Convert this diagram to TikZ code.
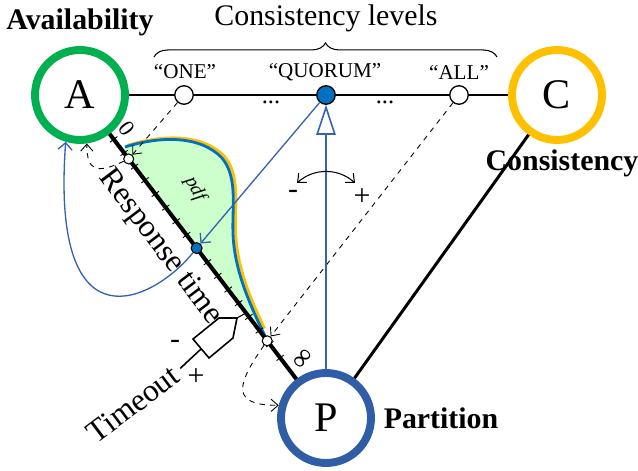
\documentclass[tikz,border=0pt]{standalone}
\usepackage{fontspec}
\setmainfont{Liberation Serif}
\usepackage{xcolor}
\usetikzlibrary{arrows.meta, calc, decorations.pathreplacing, math}
\definecolor{mygreen}{RGB}{0,176,80}
\definecolor{myyellow}{RGB}{255,192,0}
\definecolor{mydarkblue}{RGB}{47,93,166}
\definecolor{myblue}{RGB}{0,112,192}
\definecolor{mylineblue}{RGB}{52,98,178}
\definecolor{mypdf}{RGB}{204,255,204}

\begin{document}
\begin{tikzpicture}[x=0.02cm, y=0.02cm,
  corner/.style={circle, draw, line width=4.5pt, minimum size=1.8cm, inner sep=0pt, font=\fontsize{24}{24}\selectfont},
  level/.style={circle, draw, line width=0.75pt, fill=white, minimum size=0.37cm, inner sep=0pt},
  axisdot/.style={circle, draw, line width=0.6pt, fill=white, minimum size=0.2cm, inner sep=0pt},
  hint/.style={dashed, line width=0.5pt, -{Straight Barb[length=4pt, width=7pt]}},
  bluearrow/.style={color=mylineblue, line width=0.75pt, -{Straight Barb[length=4pt, width=8pt]}},
  big/.style={font=\fontsize{17}{17}\selectfont},
  bigbold/.style={font=\bfseries\fontsize{17}{17}\selectfont}
]
\tikzmath{
\tzero=0.1372;
\dt=0.04228;
}
\useasboundingbox (0,0) rectangle (638,470);

% pdf of the response time
\fill[color=mypdf] (121,322) .. controls (160,334) and (200,335) .. (222,312) .. controls (238,293) and (232,262) .. (233,237) .. controls (234,200) and (250,165) .. (268,129) -- cycle;
\draw[color=myyellow, line width=1.7pt, shift={(2.5,1.5)}] (125,323) .. controls (160,334) and (200,335) .. (222,312) .. controls (238,293) and (232,262) .. (233,237) .. controls (234,200) and (250,165) .. (262,140);
\draw[color=myblue, line width=1.6pt] (125,323) .. controls (160,334) and (200,335) .. (222,312) .. controls (238,293) and (232,262) .. (233,237) .. controls (234,200) and (250,165) .. (266,132);
\node[rotate=-62, font=\itshape\fontsize{11}{11}\selectfont] (pdf) at (195,281) {pdf};

% CAP corners
\node[corner, color=mygreen] (A) at (80,375) {\color{black}A};
\node[corner, color=myyellow] (C) at (557,375) {\color{black}C};
\node[corner, color=mydarkblue] (P) at (326,52) {\color{black}P};

% response time axis
\draw[line width=2.3pt] (A) -- (P);
\foreach \k in {0,...,16}{
\coordinate (tk) at ($(A)!{\tzero+\k*\dt}!(P)$);
\draw[line width=0.5pt] ($(tk)!2.6pt!90:(P)$) -- ($(tk)!2.6pt!-90:(P)$);
}
\node[rotate=-53, font=\fontsize{13}{13}\selectfont] (zero) at (127,341) {0};
\node[rotate=50, font=\fontsize{16}{16}\selectfont] (inf) at (304,111) {∞};
\node[rotate=-53, font=\fontsize{18}{18}\selectfont] (rt) at (160,223) {Response time};

% consistency levels
\node[level] (one) at (184,375) {};
\node[level, fill=myblue] (quorum) at (326,375) {};
\node[level] (all) at (459,375) {};
\draw[line width=1.4pt] (A) -- (one) -- (quorum) -- (all) -- (C);
\draw[line width=1.7pt] (C) -- (P);
\node[font=\fontsize{12}{12}\selectfont] (lone) at (185,398) {“ONE”};
\node[font=\fontsize{12}{12}\selectfont] (lquorum) at (325,398) {“QUORUM”};
\node[font=\fontsize{12}{12}\selectfont] (lall) at (459,398) {“ALL”};
\node[font=\fontsize{14}{14}\selectfont] at (271,368) {...};
\node[font=\fontsize{14}{14}\selectfont] at (385,368) {...};
\draw[decorate, decoration={brace, amplitude=8pt}, line width=0.6pt] (154,413) -- (497,413);
\node[big] (levels) at (326,452) {Consistency levels};

% points on the axis
\node[axisdot] (s1) at ($(A)!0.198!(P)$) {};
\node[axisdot, fill=myblue, minimum size=0.22cm] (b) at ($(A)!0.474!(P)$) {};
\node[axisdot] (s2) at ($(A)!0.761!(P)$) {};

\draw[hint] (one) -- (s1);
\draw[hint] (s1) to[out=205, in=-90, looseness=1.8] (A.-82);
\draw[hint] (all) -- (s2);
\draw[hint] (s2) to[out=-125, in=180, looseness=2] (P.165);

\draw[bluearrow] (quorum) -- (b);
\draw[bluearrow] (b) .. controls (155,170) and (50,115) .. (A.-107);
\draw[color=mylineblue, line width=0.9pt, -{Triangle[open, length=17pt, width=11pt]}] (P) -- (quorum);

% tuning the level
\coordinate (arcL) at (297,287);
\coordinate (arcR) at (355,287);
\draw[line width=0.6pt, {Straight Barb[length=4pt, width=7pt]}-{Straight Barb[length=4pt, width=7pt]}] (arcL) to[bend left=42] (arcR);
\node[big] (minus) at (293,276) {-};
\node[big] (plus) at (362,273) {+};

% timeout knob
\draw[line width=0.9pt] (193,131) -- (219,152) -- (237,152) -- (233,132) -- (209,112) -- cycle;
\draw[line width=0.6pt] (237,152) -- (246,157);
\coordinate (knob) at (201,121);
\node[rotate=37, font=\fontsize{18}{18}\selectfont] (timeout) at (133,66) {Timeout};
\draw[line width=0.9pt] (knob) -- (timeout.east);
\node[big] (tminus) at (175,126) {-};
\node[big] (tplus) at (196,93) {+};

% labels
\node[bigbold] (avail) at (80,448) {Availability};
\node[bigbold] (cons) at (562,307) {Consistency};
\node[bigbold] (part) at (441,52) {Partition};
\end{tikzpicture}
\end{document}
